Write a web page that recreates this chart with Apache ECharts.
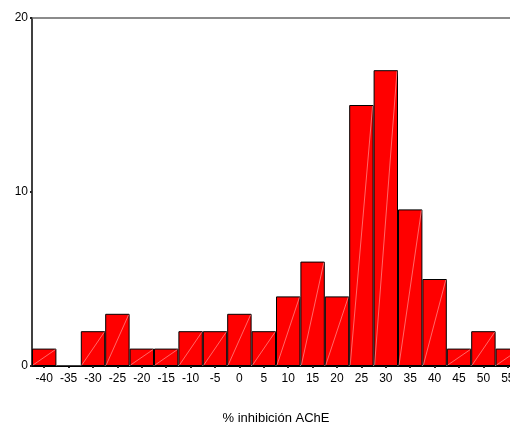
<!DOCTYPE html>
<html>
<head>
<meta charset="utf-8">
<script src="https://cdn.jsdelivr.net/npm/echarts@6/dist/echarts.min.js"></script>
<style>html,body{margin:0;padding:0;background:#fff}#c{width:510px;height:425px}</style>
</head>
<body>
<div id="c"></div>
<script>
const categories = ['-40','-35','-30','-25','-20','-15','-10','-5','0','5','10','15','20','25','30','35','40','45','50','55'];
const counts = [1,0,2,3,1,1,2,2,3,2,4,6,4,15,17,9,5,1,2,1];
const yTicks = [0,10,20];
const xTitle = '% inhibición AChE';

const chart = echarts.init(document.getElementById('c'));
const font = 'Liberation Sans, Arial, sans-serif';
chart.setOption({
  animation: false,
  grid: {left: 32, top: 18, width: 488, height: 348, containLabel: false, outerBoundsMode: 'none'},
  xAxis: [{
    type: 'category', data: categories, position: 'bottom',
    axisLine: {show: true, lineStyle: {color: '#000', width: 1}},
    axisTick: {show: true, alignWithLabel: true, length: 2, lineStyle: {color: '#222', width: 2}},
    axisLabel: {color: '#000', fontFamily: font, fontSize: 12, margin: 7, interval: 0},
    name: xTitle, nameLocation: 'middle', nameGap: 46,
    nameTextStyle: {color: '#000', fontFamily: font, fontSize: 13}
  }, {
    type: 'category', data: categories, position: 'top',
    axisLine: {show: true, lineStyle: {color: '#666', width: 1.5}},
    axisTick: {show: false}, axisLabel: {show: false}
  }],
  yAxis: {
    type: 'value', min: 0, max: 20, interval: 10,
    axisLine: {show: true, lineStyle: {color: '#000', width: 1.5}},
    axisTick: {show: true, length: 2, lineStyle: {color: '#222', width: 2}},
    axisLabel: {color: '#000', fontFamily: font, fontSize: 12, margin: 4,
      formatter: v => yTicks.includes(v) ? String(v) : ''},
    splitLine: {show: false}
  },
  series: [{
    type: 'bar', data: counts, barCategoryGap: 0,
    itemStyle: {color: '#ff0000', borderColor: '#000', borderWidth: 1}
  }, {
    type: 'custom',
    data: counts.map((v, i) => [i, v]),
    renderItem: function (params, api) {
      const i = api.value(0), v = api.value(1);
      if (!v) return;
      const w = api.size([1, 0])[0];
      const p0 = api.coord([i, 0]);
      const p1 = api.coord([i, v]);
      return {
        type: 'line',
        shape: {x1: p0[0] - w / 2 + 1, y1: p0[1] - 1, x2: p1[0] + w / 2 - 1, y2: p1[1] + 1},
        style: {stroke: 'rgba(255,200,200,0.75)', lineWidth: 0.7}
      };
    },
    z: 3
  }]
});
</script>
</body>
</html>
